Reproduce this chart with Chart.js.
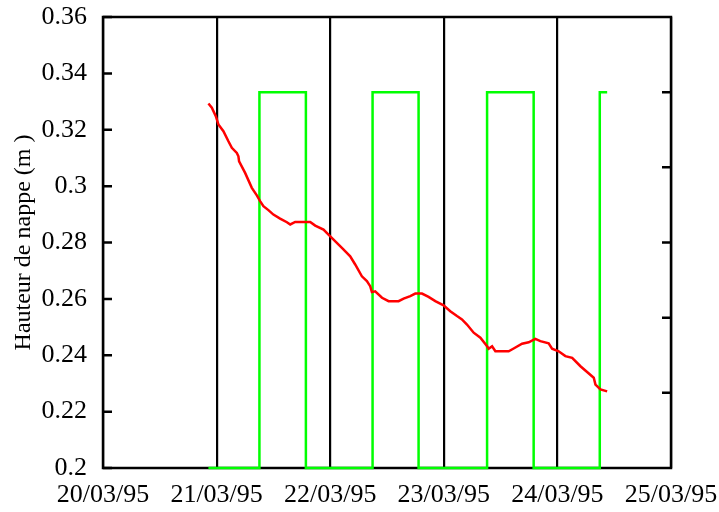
<!DOCTYPE html>
<html>
<head>
<meta charset="utf-8">
<script src="https://cdn.jsdelivr.net/npm/chart.js@4"></script>
<style>
    html, body { margin: 0; padding: 0; background: #fff; }
    #wrap { width: 719px; height: 512px; }
</style>
</head>
<body>
<div id="wrap"><canvas id="nappe-chart" width="719" height="512"></canvas></div>
<script>
// x values are days counted from 20/03/95 00:00
const dateLabels = ["20/03/95", "21/03/95", "22/03/95", "23/03/95", "24/03/95", "25/03/95"];
const levelTicks = [0.2, 0.22, 0.24, 0.26, 0.28, 0.3, 0.32, 0.34, 0.36];

// water table height (m)
const levelTimes = [
    0.928, 0.958, 0.993, 1.016, 1.06, 1.104, 1.134, 1.178, 1.192, 1.198,
    1.251, 1.31, 1.354, 1.383, 1.412, 1.456, 1.5, 1.559, 1.619, 1.648,
    1.692, 1.824, 1.868, 1.941, 1.985, 2.103, 2.176, 2.22, 2.279, 2.323,
    2.352, 2.367, 2.396, 2.456, 2.514, 2.602, 2.646, 2.705, 2.749, 2.808,
    2.866, 2.925, 2.998, 3.057, 3.116, 3.16, 3.204, 3.263, 3.322, 3.381,
    3.395, 3.425, 3.454, 3.571, 3.615, 3.689, 3.747, 3.806, 3.85, 3.923,
    3.953, 4.011, 4.07, 4.13, 4.203, 4.32, 4.335, 4.379, 4.438,
];
const levelValues = [
    0.3293, 0.3278, 0.3248, 0.3219, 0.3195, 0.3159, 0.3136, 0.3118, 0.3106, 0.3088,
    0.3047, 0.2994, 0.2967, 0.2947, 0.2929, 0.2915, 0.2899, 0.2885, 0.2872, 0.2864,
    0.2873, 0.2873, 0.286, 0.2846, 0.2828, 0.2781, 0.2751, 0.2722, 0.268, 0.2663,
    0.2645, 0.2624, 0.2627, 0.2604, 0.2592, 0.2592, 0.2601, 0.261, 0.2619, 0.2619,
    0.2607, 0.2592, 0.2577, 0.2556, 0.2539, 0.2527, 0.2509, 0.248, 0.2462, 0.2432,
    0.2423, 0.2432, 0.2414, 0.2414, 0.2424, 0.2441, 0.2446, 0.2458, 0.245, 0.2442,
    0.2423, 0.2414, 0.2397, 0.2391, 0.2361, 0.232, 0.2296, 0.2279, 0.2272,
];

// on/off signal (right axis, 0..6), value holds until the next time
const switchTimes = [0.928, 1.377, 1.786, 2.373, 2.778, 3.381, 3.791, 4.373, 4.438];
const switchStates = [0, 5, 0, 5, 0, 5, 0, 5, 5];
const switchTicks = [1, 2, 3, 4, 5];

const serif = "'Liberation Serif', 'DejaVu Serif', serif";

// box round the plot and inward tick marks
const framePlugin = {
    id: "frame",
    beforeDatasetsDraw(chart) {
        const ctx = chart.ctx;
        const a = chart.chartArea;
        const y = chart.scales.y;
        const y2 = chart.scales.y2;
        ctx.save();
        ctx.strokeStyle = "#000";
        ctx.lineWidth = 2.5;
        ctx.strokeRect(a.left, a.top, a.right - a.left, a.bottom - a.top);
        ctx.beginPath();
        levelTicks.forEach((v) => {
            const py = y.getPixelForValue(v);
            ctx.moveTo(a.left, py);
            ctx.lineTo(a.left + 9, py);
        });
        switchTicks.forEach((v) => {
            const py = y2.getPixelForValue(v);
            ctx.moveTo(a.right, py);
            ctx.lineTo(a.right - 9, py);
        });
        ctx.stroke();
        ctx.restore();
    },
};

// keep the plot box where the original has it
function noEdgePadding(s) {
    s.paddingLeft = 0;
    s.paddingRight = 0;
    s.paddingTop = 0;
    s.paddingBottom = 0;
}

new Chart(document.getElementById("nappe-chart"), {
    type: "line",
    data: {
        datasets: [
            {
                label: "Hauteur de nappe",
                data: levelTimes.map((t, i) => ({ x: t, y: levelValues[i] })),
                borderColor: "#ff0000",
                borderWidth: 2.5,
                pointRadius: 0,
                yAxisID: "y",
            },
            {
                label: "Pompe",
                data: switchTimes.map((t, i) => ({ x: t, y: switchStates[i] })),
                borderColor: "#00ff00",
                borderWidth: 2.5,
                pointRadius: 0,
                stepped: true,
                clip: 3,
                yAxisID: "y2",
            },
        ],
    },
    options: {
        responsive: false,
        animation: false,
        layout: { padding: { top: 17 } },
        plugins: {
            legend: { display: false },
            tooltip: { enabled: false },
        },
        scales: {
            x: {
                type: "linear",
                min: 0,
                max: 5,
                afterFit: (s) => { s.height = 44; noEdgePadding(s); },
                border: { display: false },
                grid: { color: "#000", lineWidth: 2.2, drawTicks: false },
                ticks: {
                    stepSize: 1,
                    padding: 12,
                    color: "#000",
                    font: { family: serif, size: 26 },
                    callback: (v) => dateLabels[v],
                },
            },
            y: {
                min: 0.2,
                max: 0.36,
                afterFit: (s) => { s.width = 103; noEdgePadding(s); },
                border: { display: false },
                grid: { display: false, drawTicks: false },
                afterBuildTicks: (s) => { s.ticks = levelTicks.map((v) => ({ value: v })); },
                ticks: {
                    padding: 16,
                    color: "#000",
                    font: { family: serif, size: 26 },
                    callback: (v) => String(+v.toFixed(2)),
                },
                title: {
                    display: true,
                    text: "Hauteur de nappe (m )",
                    color: "#000",
                    padding: { top: 9, bottom: 0 },
                    font: { family: serif, size: 24 },
                },
            },
            y2: {
                position: "right",
                min: 0,
                max: 6,
                afterFit: (s) => { s.width = 48; noEdgePadding(s); },
                border: { display: false },
                grid: { display: false, drawTicks: false },
                ticks: { display: false },
            },
        },
    },
    plugins: [framePlugin],
});
</script>
</body>
</html>
